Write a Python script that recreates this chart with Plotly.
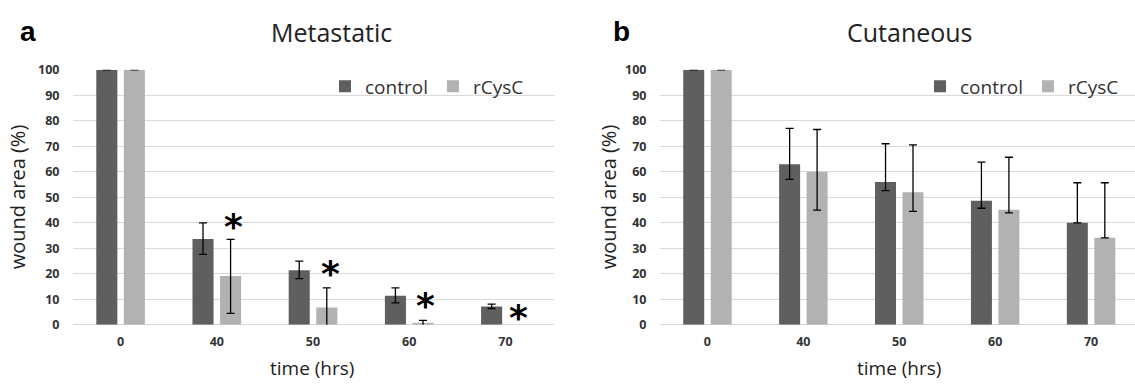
import plotly.graph_objects as go

W, H = 1135, 387

# ---------------- data ----------------
categories = ["0", "40", "50", "60", "70"]
series_names = ["control", "rCysC"]

meta_control = [100, 33.6, 21.4, 11.4, 7.2]
meta_control_up = [0, 6.4, 3.6, 3.1, 0.9]
meta_control_dn = [0, 6.0, 3.3, 2.8, 0.8]
meta_rcysc = [100, 19.1, 6.75, 0.5, 0]
meta_rcysc_up = [0, 14.4, 7.75, 1.2, None]   # None: no error bar drawn
meta_rcysc_dn = [0, 14.6, 7.75, 1.2, None]

cut_control = [100, 63, 56, 48.6, 40]
cut_control_up = [0, 14, 15, 15.2, 15.7]
cut_control_dn = [0, 6, 3.4, 2.9, 0]
cut_rcysc = [100, 60, 52, 45.1, 34.1]
cut_rcysc_up = [0, 16.6, 18.6, 20.6, 21.6]
cut_rcysc_dn = [0, 15, 7.5, 1.2, 0]

star_categories = ["40", "50", "60", "70"]
star_y = [42.8, 24.3, 11.7, 7.0]

y_ticks = [0, 10, 20, 30, 40, 50, 60, 70, 80, 90, 100]

panel_titles = ["Metastatic", "Cutaneous"]
panel_letters = ["a", "b"]
x_title = "time (hrs)"
y_title = "wound area (%)"

# ---------------- style ----------------
C_DARK = "#5f5f5f"
C_LIGHT = "#b2b2b2"
GRID = "#d9d9d9"
TXT = "#333333"
FONT = "Open Sans"


def px(x):
    return x / W


def py(y):
    return 1 - y / H


fig = go.Figure()


def bar_trace(name, color, xa, ya, legend, vals, up, dn):
    # a zero bar without an error bar is left undrawn (as in the reference)
    yv = [v if not (u is None and v == 0) else None for v, u in zip(vals, up)]
    return go.Bar(
        x=categories, y=yv, name=name, marker_color=color, marker_line_width=0,
        error_y=dict(type="data", array=up, arrayminus=dn, color="black",
                     thickness=1.3, width=4),
        xaxis=xa, yaxis=ya, legend=legend)


fig.add_trace(bar_trace(series_names[0], C_DARK, "x", "y", "legend",
                        meta_control, meta_control_up, meta_control_dn))
fig.add_trace(bar_trace(series_names[1], C_LIGHT, "x", "y", "legend",
                        meta_rcysc, meta_rcysc_up, meta_rcysc_dn))
fig.add_trace(bar_trace(series_names[0], C_DARK, "x2", "y2", "legend2",
                        cut_control, cut_control_up, cut_control_dn))
fig.add_trace(bar_trace(series_names[1], C_LIGHT, "x2", "y2", "legend2",
                        cut_rcysc, cut_rcysc_up, cut_rcysc_dn))

y_dom = [py(330.3), py(63.6)]
xaxis_common = dict(type="category", showgrid=False, zeroline=False, showline=False,
                    ticks="", tickfont=dict(family=FONT, size=12.5, color=TXT, weight="bold"),
                    ticklabelstandoff=8)
yaxis_common = dict(range=[0, 100], tickvals=y_ticks, showgrid=True, gridcolor=GRID,
                    gridwidth=1.3, zeroline=True, zerolinecolor=GRID, zerolinewidth=1.3,
                    showline=False, ticks="",
                    tickfont=dict(family=FONT, size=12.5, color=TXT, weight="bold"),
                    ticklabelstandoff=12)

fig.update_layout(
    width=W, height=H,
    margin=dict(l=0, r=0, t=0, b=0),
    paper_bgcolor="white", plot_bgcolor="white",
    barmode="group", bargap=0.427, bargroupgap=0.236,
    xaxis=dict(domain=[px(72.5), px(553.5)], anchor="y", range=[-0.5, 4.5], **xaxis_common),
    yaxis=dict(domain=y_dom, anchor="x", **yaxis_common),
    xaxis2=dict(domain=[px(659.5), 1.0], anchor="y2", range=[-0.5, 4.458], **xaxis_common),
    yaxis2=dict(domain=y_dom, anchor="x2", **yaxis_common),
    legend=dict(orientation="h", x=px(529), xanchor="right", y=py(81), yanchor="middle",
                font=dict(family=FONT, size=19, color=TXT), bgcolor="rgba(0,0,0,0)",
                itemwidth=30, traceorder="normal"),
    legend2=dict(orientation="h", x=px(1124), xanchor="right", y=py(81), yanchor="middle",
                 font=dict(family=FONT, size=19, color=TXT), bgcolor="rgba(0,0,0,0)",
                 itemwidth=30, traceorder="normal"),
    showlegend=True,
)

ann = []
# panel titles
for cx, t in zip([331.5, 910], panel_titles):
    ann.append(dict(text=t, x=px(cx), y=py(24), xref="paper", yref="paper",
                    xanchor="center", yanchor="middle", showarrow=False,
                    font=dict(family=FONT, size=25, color="#222222")))
# panel letters
for lx, t in zip([18, 611], panel_letters):
    ann.append(dict(text=t, x=px(lx), y=py(24), xref="paper", yref="paper",
                    xanchor="left", yanchor="middle", showarrow=False,
                    font=dict(family="Liberation Sans", size=28, color="black", weight="bold")))
# axis titles
for cx in [312, 899]:
    ann.append(dict(text=x_title, x=px(cx), y=py(375), xref="paper", yref="paper",
                    xanchor="center", yanchor="middle", showarrow=False,
                    font=dict(family=FONT, size=19, color="#222222")))
for cx in [17, 608]:
    ann.append(dict(text=y_title, x=px(cx), y=py(197), xref="paper", yref="paper",
                    xanchor="center", yanchor="middle", showarrow=False, textangle=-90,
                    font=dict(family=FONT, size=20, color="#222222")))
# significance stars (x given as category index on the category axis)
shifts = [17, 17, 16, 13]
for c, yv, s in zip(star_categories, star_y, shifts):
    ann.append(dict(text="*", x=categories.index(c), y=yv, xref="x", yref="y", xanchor="center",
                    yanchor="middle", xshift=s, yshift=-11, showarrow=False,
                    font=dict(family="DejaVu Sans", size=36, color="black", weight="bold")))
fig.update_layout(annotations=ann)

fig.write_html("out.html", config={"displayModeBar": False},
               post_script="document.body.style.margin='0px';")
